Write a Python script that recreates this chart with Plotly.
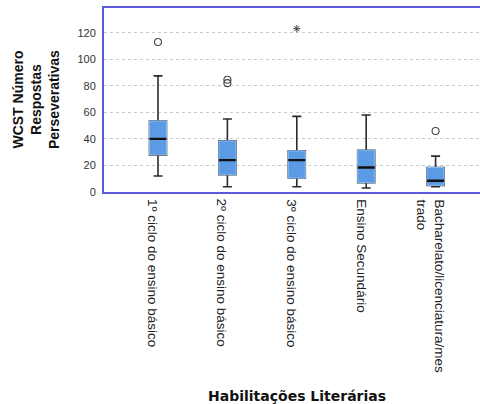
import plotly.graph_objects as go

# Education levels and summary statistics of WCST perseverative responses
categories = [
    "1º ciclo do ensino básico",
    "2º ciclo do ensino básico",
    "3º ciclo do ensino básico",
    "Ensino Secundário",
    "Bacharelato/licenciatura/mes<br>trado",
]
lower_whisker = [12, 4, 4, 3, 4]
q1 = [28, 13, 10.5, 7, 5]
median = [40, 24, 24, 18.5, 8.5]
q3 = [53.5, 38.5, 31, 31.5, 18.5]
upper_whisker = [87.5, 55, 57, 58, 27]

# Outliers (circles) and extreme values (asterisks)
outlier_cat = [0, 1, 1, 4]
outlier_val = [113, 84.5, 82, 46]
extreme_cat = [2]
extreme_val = [123]

y_ticks = [0, 20, 40, 60, 80, 100, 120]

xs = list(range(len(categories)))
BOX_W = 0.245
FILL = "#5b9be6"
EDGE = "#8fc0f2"
DARK = "#2b2b2b"
FRAME = "#5b5bdc"
FONT = "Liberation Sans, Arial, sans-serif"
WIDE_FONT = "DejaVu Sans, Verdana, sans-serif"

# plot area in pixels (used to place the free-floating titles)
W, H = 480, 404
ML, MR, MT, MB = 104, 0, 8, 212
PW, PH = W - ML - MR, H - MT - MB

fig = go.Figure()

# whiskers + caps
fig.add_trace(go.Box(
    x=xs, q1=q1, median=median, q3=q3,
    lowerfence=lower_whisker, upperfence=upper_whisker,
    width=BOX_W, whiskerwidth=0.53, boxpoints=False,
    fillcolor=FILL, line=dict(color=DARK, width=1.6),
    hoverinfo="skip", showlegend=False,
))
# box body with light edge
fig.add_trace(go.Box(
    x=xs, q1=q1, median=median, q3=q3,
    lowerfence=q1, upperfence=q3,
    width=BOX_W, whiskerwidth=0, boxpoints=False,
    fillcolor=FILL, line=dict(color=EDGE, width=1),
    hoverinfo="skip", showlegend=False,
))
# median bars
fig.add_trace(go.Box(
    x=xs, q1=median, median=median, q3=median,
    lowerfence=median, upperfence=median,
    width=BOX_W, whiskerwidth=0, boxpoints=False,
    fillcolor="rgba(0,0,0,0)", line=dict(color="#111111", width=2.4),
    hoverinfo="skip", showlegend=False,
))

fig.add_trace(go.Scatter(
    x=outlier_cat, y=outlier_val, mode="markers",
    marker=dict(symbol="circle-open", size=7, color="#444444",
                line=dict(width=1.1, color="#444444")),
    hoverinfo="skip", showlegend=False,
))
fig.add_trace(go.Scatter(
    x=extreme_cat, y=extreme_val, mode="markers",
    marker=dict(symbol="asterisk-open", size=6, color="#444444",
                line=dict(width=1, color="#444444")),
    hoverinfo="skip", showlegend=False,
))

# rotated category labels under the axis
for i, label in enumerate(categories):
    fig.add_annotation(
        x=i, y=0, xref="x", yref="paper",
        text=label, textangle=90, showarrow=False,
        xanchor="center", yanchor="top", align="left",
        xshift=-5, yshift=-5,
        font=dict(family=FONT, size=13.5, color="#222222"),
    )

# y-axis title
fig.add_annotation(
    x=(36 - ML) / PW, y=0.5, xref="paper", yref="paper",
    text="<b>WCST Número<br>Respostas<br>Perseverativas</b>",
    textangle=-90, showarrow=False, xanchor="center", yanchor="middle",
    font=dict(family=FONT, size=14, color="#111111"),
)

# x-axis title
fig.add_annotation(
    x=(297 - ML) / PW, y=-(396 - MT - PH) / PH, xref="paper", yref="paper",
    text="<b>Habilitações Literárias</b>",
    showarrow=False, xanchor="center", yanchor="middle",
    font=dict(family=WIDE_FONT, size=14, color="#111111"),
)

fig.update_layout(
    width=W, height=H,
    margin=dict(l=ML, r=MR, t=MT, b=MB),
    paper_bgcolor="white", plot_bgcolor="white",
    boxmode="overlay",
    xaxis=dict(
        range=[-0.778, 4.64], showticklabels=False, showgrid=False,
        zeroline=False, ticks="",
        showline=True, linecolor=FRAME, linewidth=2, mirror=True,
    ),
    yaxis=dict(
        range=[0, 138.6], tickvals=y_ticks, ticks="",
        showgrid=True, gridcolor="#c9c9c9", griddash="3px,3px", gridwidth=1,
        zeroline=False, showline=True, linecolor=FRAME, linewidth=2,
        ticklabelstandoff=4,
        tickfont=dict(family=FONT, size=11, color="#333333"),
    ),
    font=dict(family=FONT),
)

fig.write_html("out.html")
